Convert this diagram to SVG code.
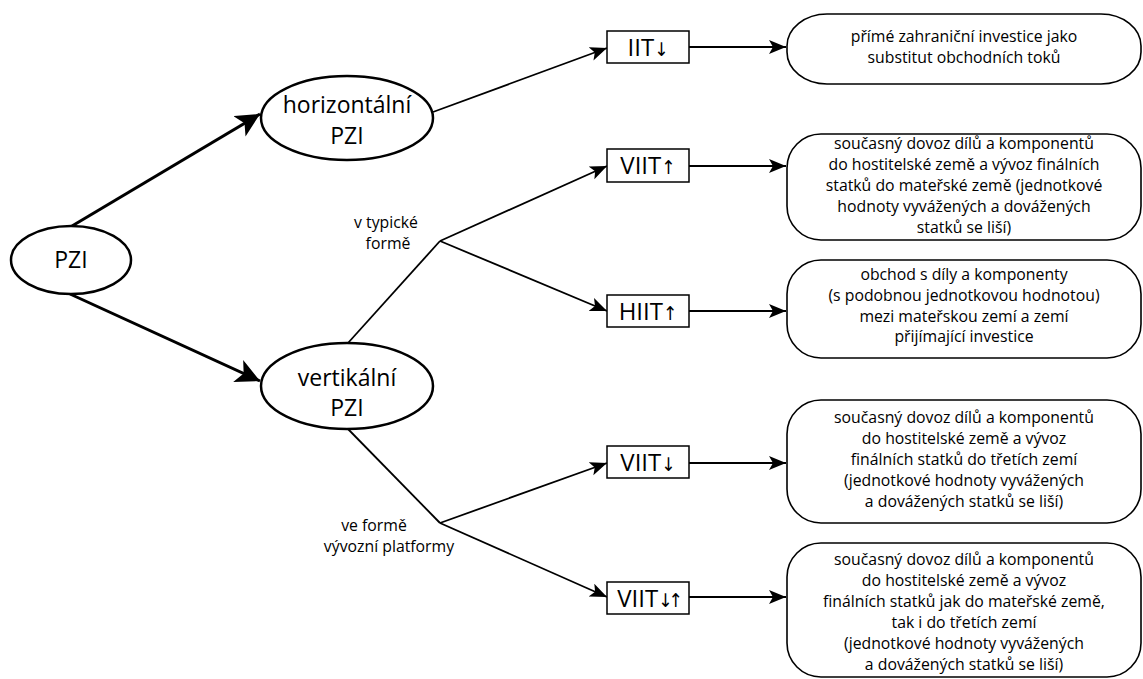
<svg xmlns="http://www.w3.org/2000/svg" width="1143" height="679" viewBox="0 0 1143 679">
<style>
  .bg { fill: #ffffff; }
  .ell { fill: #ffffff; stroke: #000; stroke-width: 2.5; }
  .big { font-family: "Open Sans", "Noto Sans", sans-serif; font-size: 23px; fill: #000; text-anchor: middle; }
  .lbl { font-family: "Open Sans", "Noto Sans", sans-serif; font-size: 24px; fill: #000; text-anchor: middle; }
  .arr { font-family: "DejaVu Sans Condensed", "DejaVu Sans", sans-serif; font-size: 19px; fill: #000; }
  .box { fill: #ffffff; stroke: #000; stroke-width: 1.5; }
  .rbox { fill: #ffffff; stroke: #000; stroke-width: 1.6; }
  .txt { font-family: "Open Sans", "Noto Sans", sans-serif; font-size: 15.8px; fill: #000; text-anchor: middle; }
  .thick { stroke: #000; stroke-width: 3; fill: none; }
  .thin { stroke: #000; stroke-width: 1.8; fill: none; }
</style>
<defs>
  <marker id="bigHead" markerUnits="userSpaceOnUse" markerWidth="26" markerHeight="24" refX="24" refY="12" orient="auto">
    <path d="M0,0 L24,12 L0,24 L6,12 Z" fill="#000"/>
  </marker>
  <marker id="smallHead" markerUnits="userSpaceOnUse" markerWidth="18" markerHeight="16" refX="17" refY="7" orient="auto">
    <path d="M0,0 L17,7 L0,14 L4,7 Z" fill="#000"/>
  </marker>
</defs>
<rect class="bg" x="0" y="0" width="1143" height="679"/>

<g id="connectors">
  <line class="thick" x1="72" y1="226" x2="260" y2="114" marker-end="url(#bigHead)"/>
  <line class="thick" x1="70" y1="294" x2="260" y2="381" marker-end="url(#bigHead)"/>
  <line class="thin" x1="433" y1="112" x2="607" y2="48" marker-end="url(#smallHead)"/>
  <polyline class="thin" points="348,343 440,241"/>
  <line class="thin" x1="440" y1="241" x2="607" y2="166" marker-end="url(#smallHead)"/>
  <line class="thin" x1="440" y1="241" x2="607" y2="311" marker-end="url(#smallHead)"/>
  <polyline class="thin" points="348,429 440,523"/>
  <line class="thin" x1="440" y1="523" x2="607" y2="463" marker-end="url(#smallHead)"/>
  <line class="thin" x1="440" y1="523" x2="607" y2="597" marker-end="url(#smallHead)"/>
  <line class="thin" x1="689" y1="47" x2="786" y2="47" marker-end="url(#smallHead)"/>
  <line class="thin" x1="689" y1="166" x2="786" y2="166" marker-end="url(#smallHead)"/>
  <line class="thin" x1="689" y1="311" x2="786" y2="311" marker-end="url(#smallHead)"/>
  <line class="thin" x1="689" y1="463" x2="786" y2="463" marker-end="url(#smallHead)"/>
  <line class="thin" x1="689" y1="597" x2="786" y2="597" marker-end="url(#smallHead)"/>
</g>

<g id="edge-labels">
  <text class="txt" x="386" y="228">v typické</text>
  <text class="txt" x="388" y="249">formě</text>
  <text class="txt" x="374" y="531">ve formě</text>
  <text class="txt" x="389" y="552">vývozní platformy</text>
</g>

<g id="n-pzi">
  <ellipse class="ell" cx="71" cy="260" rx="60" ry="34"/>
  <text class="big" x="71" y="268">PZI</text>
</g>
<g id="n-horizontalni">
  <ellipse class="ell" cx="347" cy="118" rx="86" ry="42"/>
  <text class="big" x="347" y="113">horizontální</text>
  <text class="big" x="347" y="144">PZI</text>
</g>
<g id="n-vertikalni">
  <ellipse class="ell" cx="347" cy="386" rx="86" ry="43"/>
  <text class="big" x="347" y="386">vertikální</text>
  <text class="big" x="347" y="416">PZI</text>
</g>

<g id="n-iit">
  <rect class="box" x="607" y="31" width="82" height="32"/>
  <text class="lbl" x="648" y="56">IIT<tspan class="arr">↓</tspan></text>
</g>
<g id="n-viit-up">
  <rect class="box" x="607" y="149" width="82" height="33"/>
  <text class="lbl" x="648" y="174">VIIT<tspan class="arr">↑</tspan></text>
</g>
<g id="n-hiit">
  <rect class="box" x="607" y="295" width="82" height="32"/>
  <text class="lbl" x="648" y="320">HIIT<tspan class="arr">↑</tspan></text>
</g>
<g id="n-viit-down">
  <rect class="box" x="607" y="446" width="82" height="32"/>
  <text class="lbl" x="648" y="471">VIIT<tspan class="arr">↓</tspan></text>
</g>
<g id="n-viit-both">
  <rect class="box" x="607" y="582" width="82" height="32"/>
  <text class="lbl" x="648" y="607">VIIT<tspan class="arr" letter-spacing="-4">↓↑</tspan></text>
</g>

<g id="d-1">
  <rect class="rbox" x="787" y="14" width="354" height="70" rx="40" ry="32"/>
  <text class="txt" x="964" y="42">přímé zahraniční investice jako</text>
  <text class="txt" x="964" y="63">substitut obchodních toků</text>
</g>
<g id="d-2">
  <rect class="rbox" x="787" y="134" width="354" height="106" rx="34" ry="34"/>
  <text class="txt" x="964" y="149">současný dovoz dílů a komponentů</text>
  <text class="txt" x="964" y="170">do hostitelské země a vývoz finálních</text>
  <text class="txt" x="964" y="191">statků do mateřské země (jednotkové</text>
  <text class="txt" x="964" y="212">hodnoty vyvážených a dovážených</text>
  <text class="txt" x="964" y="233">statků se liší)</text>
</g>
<g id="d-3">
  <rect class="rbox" x="787" y="260" width="354" height="98" rx="34" ry="34"/>
  <text class="txt" x="964" y="280">obchod s díly a komponenty</text>
  <text class="txt" x="964" y="301">(s podobnou jednotkovou hodnotou)</text>
  <text class="txt" x="964" y="322">mezi mateřskou zemí a zemí</text>
  <text class="txt" x="964" y="342">přijímající investice</text>
</g>
<g id="d-4">
  <rect class="rbox" x="787" y="400" width="354" height="123" rx="34" ry="34"/>
  <text class="txt" x="964" y="423">současný dovoz dílů a komponentů</text>
  <text class="txt" x="964" y="444">do hostitelské země a vývoz</text>
  <text class="txt" x="964" y="465">finálních statků do třetích zemí</text>
  <text class="txt" x="964" y="486">(jednotkové hodnoty vyvážených</text>
  <text class="txt" x="964" y="507">a dovážených statků se liší)</text>
</g>
<g id="d-5">
  <rect class="rbox" x="787" y="543" width="354" height="134" rx="34" ry="34"/>
  <text class="txt" x="964" y="565">současný dovoz dílů a komponentů</text>
  <text class="txt" x="964" y="586">do hostitelské země a vývoz</text>
  <text class="txt" x="964" y="607">finálních statků jak do mateřské země,</text>
  <text class="txt" x="964" y="628">tak i do třetích zemí</text>
  <text class="txt" x="964" y="649">(jednotkové hodnoty vyvážených</text>
  <text class="txt" x="964" y="670">a dovážených statků se liší)</text>
</g>
</svg>
